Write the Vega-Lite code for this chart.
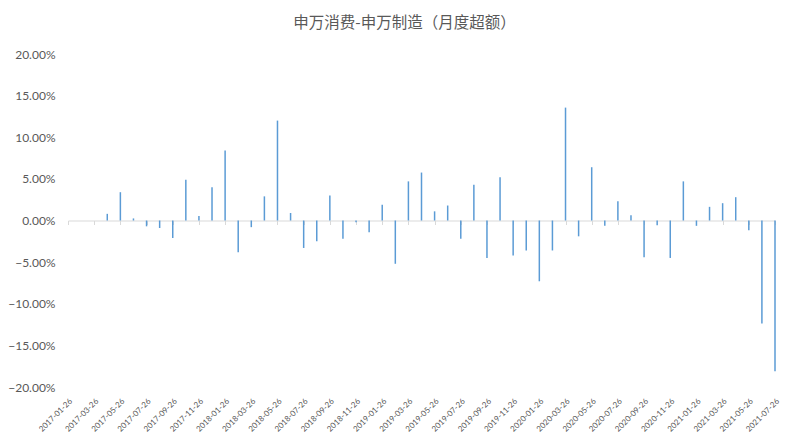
{
  "$schema": "https://vega.github.io/schema/vega-lite/v6.json",
  "autosize": {"type": "none"},
  "padding": {"left": 68, "top": 54, "right": 25, "bottom": 56},
  "width": 707,
  "height": 333,
  "background": "white",
  "title": {
    "text": "申万消费-申万制造（月度超额）",
    "font": "Noto Sans CJK SC",
    "fontSize": 15.5,
    "fontWeight": "normal",
    "color": "#595959",
    "offset": 17,
    "dx": -17
  },
  "config": {
    "view": {"stroke": null},
    "font": "Lato"
  },
  "data": {
    "values": [
      {"date": "2017-01-26", "value": 0},
      {"date": "2017-02-26", "value": 0},
      {"date": "2017-03-26", "value": 0},
      {"date": "2017-04-26", "value": 0.008},
      {"date": "2017-05-26", "value": 0.034},
      {"date": "2017-06-26", "value": 0.0025},
      {"date": "2017-07-26", "value": -0.007},
      {"date": "2017-08-26", "value": -0.009},
      {"date": "2017-09-26", "value": -0.021},
      {"date": "2017-10-26", "value": 0.049},
      {"date": "2017-11-26", "value": 0.0055},
      {"date": "2017-12-26", "value": 0.04},
      {"date": "2018-01-26", "value": 0.084},
      {"date": "2018-02-26", "value": -0.038},
      {"date": "2018-03-26", "value": -0.008},
      {"date": "2018-04-26", "value": 0.029},
      {"date": "2018-05-26", "value": 0.12},
      {"date": "2018-06-26", "value": 0.009},
      {"date": "2018-07-26", "value": -0.033},
      {"date": "2018-08-26", "value": -0.025},
      {"date": "2018-09-26", "value": 0.03},
      {"date": "2018-10-26", "value": -0.022},
      {"date": "2018-11-26", "value": -0.002},
      {"date": "2018-12-26", "value": -0.014},
      {"date": "2019-01-26", "value": 0.019},
      {"date": "2019-02-26", "value": -0.052},
      {"date": "2019-03-26", "value": 0.047},
      {"date": "2019-04-26", "value": 0.0576},
      {"date": "2019-05-26", "value": 0.011},
      {"date": "2019-06-26", "value": 0.018},
      {"date": "2019-07-26", "value": -0.022},
      {"date": "2019-08-26", "value": 0.043},
      {"date": "2019-09-26", "value": -0.045},
      {"date": "2019-10-26", "value": 0.052},
      {"date": "2019-11-26", "value": -0.042},
      {"date": "2019-12-26", "value": -0.036},
      {"date": "2020-01-26", "value": -0.073},
      {"date": "2020-02-26", "value": -0.036},
      {"date": "2020-03-26", "value": 0.1356},
      {"date": "2020-04-26", "value": -0.019},
      {"date": "2020-05-26", "value": 0.064},
      {"date": "2020-06-26", "value": -0.0064},
      {"date": "2020-07-26", "value": 0.023},
      {"date": "2020-08-26", "value": 0.0064},
      {"date": "2020-09-26", "value": -0.044},
      {"date": "2020-10-26", "value": -0.0056},
      {"date": "2020-11-26", "value": -0.045},
      {"date": "2020-12-26", "value": 0.047},
      {"date": "2021-01-26", "value": -0.0064},
      {"date": "2021-02-26", "value": 0.0164},
      {"date": "2021-03-26", "value": 0.0208},
      {"date": "2021-04-26", "value": 0.028},
      {"date": "2021-05-26", "value": -0.0116},
      {"date": "2021-06-26", "value": -0.1236},
      {"date": "2021-07-26", "value": -0.181}
    ]
  },
  "layer": [
    {
      "mark": {"type": "tick", "opacity": 0},
      "encoding": {
        "x": {
          "field": "date",
          "type": "ordinal",
          "scale": {"type": "point", "padding": 0},
          "axis": {
            "orient": "bottom",
            "offset": -166.5,
            "title": null,
            "labels": false,
            "values": ["2017-01-26","2017-03-26","2017-05-26","2017-07-26","2017-09-26","2017-11-26","2018-01-26","2018-03-26","2018-05-26","2018-07-26","2018-09-26","2018-11-26","2019-01-26","2019-03-26","2019-05-26","2019-07-26","2019-09-26","2019-11-26","2020-01-26","2020-03-26","2020-05-26","2020-07-26","2020-09-26","2020-11-26","2021-01-26","2021-03-26","2021-05-26","2021-07-26"],
            "domain": true,
            "domainColor": "#D9D9D9",
            "domainWidth": 1,
            "ticks": true,
            "tickColor": "#D9D9D9",
            "tickSize": 4,
            "grid": false
          }
        },
        "y": {"field": "value", "type": "quantitative"}
      }
    },
    {
      "mark": {"type": "bar", "color": "#5B9BD5", "size": 1.5},
      "encoding": {
        "x": {
          "field": "date",
          "type": "ordinal",
          "scale": {"type": "point", "padding": 0},
          "axis": {
            "orient": "bottom",
            "title": null,
            "values": ["2017-01-26","2017-03-26","2017-05-26","2017-07-26","2017-09-26","2017-11-26","2018-01-26","2018-03-26","2018-05-26","2018-07-26","2018-09-26","2018-11-26","2019-01-26","2019-03-26","2019-05-26","2019-07-26","2019-09-26","2019-11-26","2020-01-26","2020-03-26","2020-05-26","2020-07-26","2020-09-26","2020-11-26","2021-01-26","2021-03-26","2021-05-26","2021-07-26"],
            "labelAngle": -45,
            "labelFontSize": 8,
            "labelColor": "#595959",
            "labelPadding": 10,
            "domain": false,
            "ticks": false,
            "grid": false
          }
        },
        "y": {
          "field": "value",
          "type": "quantitative",
          "scale": {"domain": [-0.2, 0.2], "nice": false, "zero": false},
          "axis": {
            "title": null,
            "format": ".2%",
            "values": [-0.2, -0.15, -0.1, -0.05, 0, 0.05, 0.1, 0.15, 0.2],
            "grid": false,
            "domain": false,
            "ticks": false,
            "labelPadding": 13,
            "labelFontSize": 12,
            "labelColor": "#595959"
          }
        }
      }
    }
  ],
  "resolve": {"axis": {"x": "independent"}}
}
